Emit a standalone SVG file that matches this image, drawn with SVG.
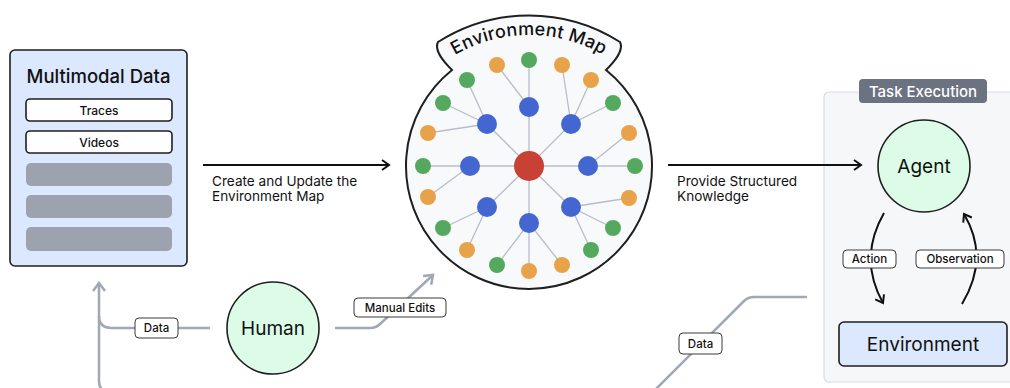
<svg xmlns="http://www.w3.org/2000/svg" width="1010" height="388" viewBox="0 0 1010 388">
<defs>
<style>
text{font-family:Inter,"Noto Sans","Liberation Sans",sans-serif;fill:#111;font-weight:500}
.dark{stroke:#1f1f1f;stroke-width:1.6}
.lbl{fill:#fff;stroke:#3a3a3a;stroke-width:1}
.lt{font-size:11.5px;text-anchor:middle}
.gray{fill:none;stroke:#a1a8b5;stroke-width:2.5;stroke-linejoin:round}
.edge{stroke:#b9bdc9;stroke-width:1.3}
.b{fill:#4466d0}.g{fill:#55a95f}.o{fill:#e8a34a}
.big{font-size:19px;text-anchor:middle;font-weight:400}
.blk{fill:none;stroke:#111;stroke-width:2}
.cap{font-size:13.6px;font-weight:400}
</style>
<marker id="ah" viewBox="0 0 12 12" refX="10" refY="6" markerWidth="12" markerHeight="12" markerUnits="userSpaceOnUse" orient="auto"><path d="M3,1 L10,6 L3,11" fill="none" stroke="#111" stroke-width="2"/></marker>
<marker id="ag" viewBox="0 0 14 14" refX="11" refY="7" markerWidth="14" markerHeight="14" markerUnits="userSpaceOnUse" orient="auto"><path d="M3,1 L11,7 L3,13" fill="none" stroke="#a1a8b5" stroke-width="2.5"/></marker>
<path id="arcT" d="M 382,182 A 147 147 0 0 1 676,182"/>
</defs>

<g id="task-execution">
<rect x="824" y="92" width="200" height="290" rx="5" fill="#f6f7f9" stroke="#d9dce1" stroke-width="1.2"/>
<rect x="859" y="79" width="128" height="24" rx="4" fill="#6b7280"/>
<text x="923" y="97" font-size="15" text-anchor="middle" style="fill:#fff">Task Execution</text>
</g>

<g id="connectors">
<line x1="203" y1="165" x2="389" y2="165" class="blk" marker-end="url(#ah)"/>
<text x="212" y="186" class="cap">Create and Update the</text>
<text x="212" y="201" class="cap">Environment Map</text>
<line x1="668" y1="165" x2="861" y2="165" class="blk" marker-end="url(#ah)"/>
<text x="677" y="186" class="cap">Provide Structured</text>
<text x="677" y="201" class="cap">Knowledge</text>
<path d="M884,213 Q858,258 883,303" class="blk" marker-end="url(#ah)"/>
<path d="M962,304 Q990,258 964,214" class="blk" marker-end="url(#ah)"/>
<path d="M210,328 H112 Q99,328 99,316" class="gray"/>
<path d="M807,297 H754 Q748,297 744,301 L653,392 H110 Q99,392 99,381 V283" class="gray" marker-end="url(#ag)"/>
<path d="M335,328 H370 Q376,328 380,324 L433,275" class="gray" marker-end="url(#ag)"/>
<rect x="135" y="318" width="43" height="20" rx="4" class="lbl"/>
<text x="156.5" y="332" class="lt">Data</text>
<rect x="354" y="298" width="92" height="19" rx="4" class="lbl"/>
<text x="400" y="312" class="lt">Manual Edits</text>
<rect x="679" y="333" width="43" height="21" rx="4" class="lbl"/>
<text x="700.5" y="348" class="lt">Data</text>
<rect x="843" y="250" width="53" height="18" rx="4" class="lbl"/>
<text x="869.5" y="263" class="lt">Action</text>
<rect x="916" y="250" width="88" height="18" rx="4" class="lbl"/>
<text x="960" y="263" class="lt">Observation</text>
</g>

<g id="multimodal-data">
<rect x="10" y="50" width="177" height="216" rx="5" fill="#dbe8fd" class="dark"/>
<text x="98.5" y="83" font-size="18.5" text-anchor="middle">Multimodal Data</text>
<rect x="26" y="99" width="146" height="22" rx="4" fill="#fff" class="dark" stroke-width="1.4"/>
<text x="99" y="114.5" font-size="12" text-anchor="middle">Traces</text>
<rect x="26" y="131" width="146" height="22" rx="4" fill="#fff" class="dark" stroke-width="1.4"/>
<text x="99" y="146.5" font-size="12" text-anchor="middle">Videos</text>
<rect x="26" y="163" width="146" height="23" rx="5" fill="#9ca3af"/>
<rect x="26" y="195" width="146" height="23" rx="5" fill="#9ca3af"/>
<rect x="26" y="227" width="146" height="24" rx="5" fill="#9ca3af"/>
</g>

<g id="environment-map">
<path d="M452,70 C442,60 434,50 438,42 A 169 169 0 0 1 620,42 C624,50 616,60 606,70 A 123 123 0 1 1 452,70 Z" fill="#f8f9fb" stroke="#1f1f1f" stroke-width="2"/>
<text font-size="18" letter-spacing="0.3"><textPath href="#arcT" startOffset="50%" text-anchor="middle">Environment Map</textPath></text>
<g class="edge">
<line x1="529" y1="166" x2="529" y2="107"/><line x1="529" y1="166" x2="487" y2="124"/><line x1="529" y1="166" x2="571" y2="124"/>
<line x1="529" y1="166" x2="470" y2="166"/><line x1="529" y1="166" x2="588" y2="166"/>
<line x1="529" y1="166" x2="487" y2="207"/><line x1="529" y1="166" x2="571" y2="207"/><line x1="529" y1="166" x2="529" y2="223"/>
<line x1="529" y1="107" x2="529" y2="60"/><line x1="529" y1="107" x2="497" y2="65"/>
<line x1="571" y1="124" x2="562" y2="65"/><line x1="571" y1="124" x2="591" y2="80"/><line x1="571" y1="124" x2="613" y2="103"/>
<line x1="487" y1="124" x2="467" y2="80"/><line x1="487" y1="124" x2="443" y2="103"/><line x1="487" y1="124" x2="428" y2="133"/>
<line x1="470" y1="166" x2="423" y2="166"/><line x1="470" y1="166" x2="428" y2="197"/>
<line x1="588" y1="166" x2="629" y2="133"/><line x1="588" y1="166" x2="635" y2="166"/>
<line x1="487" y1="207" x2="443" y2="228"/><line x1="487" y1="207" x2="467" y2="250"/>
<line x1="571" y1="207" x2="629" y2="198"/><line x1="571" y1="207" x2="613" y2="228"/><line x1="571" y1="207" x2="591" y2="250"/>
<line x1="529" y1="223" x2="497" y2="265"/><line x1="529" y1="223" x2="529" y2="271"/><line x1="529" y1="223" x2="562" y2="265"/>
</g>
<circle cx="529" cy="60" r="8" class="g"/><circle cx="497" cy="65" r="8" class="o"/><circle cx="562" cy="65" r="8" class="o"/>
<circle cx="467" cy="80" r="8" class="g"/><circle cx="591" cy="80" r="8" class="o"/>
<circle cx="443" cy="103" r="8" class="g"/><circle cx="613" cy="103" r="8" class="g"/>
<circle cx="428" cy="133" r="8" class="o"/><circle cx="629" cy="133" r="8" class="o"/>
<circle cx="423" cy="166" r="8" class="g"/><circle cx="635" cy="166" r="8" class="g"/>
<circle cx="428" cy="197" r="8" class="o"/><circle cx="629" cy="198" r="8" class="o"/>
<circle cx="443" cy="228" r="8" class="g"/><circle cx="613" cy="228" r="8" class="g"/>
<circle cx="467" cy="250" r="8" class="o"/><circle cx="591" cy="250" r="8" class="g"/>
<circle cx="497" cy="265" r="8" class="g"/><circle cx="529" cy="271" r="8" class="o"/><circle cx="562" cy="265" r="8" class="o"/>
<circle cx="529" cy="107" r="10" class="b"/><circle cx="487" cy="124" r="10" class="b"/><circle cx="571" cy="124" r="10" class="b"/>
<circle cx="470" cy="166" r="10" class="b"/><circle cx="588" cy="166" r="10" class="b"/>
<circle cx="487" cy="207" r="10" class="b"/><circle cx="571" cy="207" r="10" class="b"/><circle cx="529" cy="223" r="10" class="b"/>
<circle cx="529" cy="166" r="15" fill="#c84135"/>
</g>

<g id="human">
<circle cx="273" cy="328" r="46" fill="#dcfce7" class="dark"/>
<text x="273" y="335" class="big">Human</text>
</g>

<g id="agent">
<circle cx="924" cy="166" r="46" fill="#dcfce7" class="dark"/>
<text x="924" y="173" class="big">Agent</text>
</g>

<g id="environment">
<rect x="839" y="322" width="168" height="44" rx="5" fill="#dbe8fd" class="dark"/>
<text x="923" y="351" class="big">Environment</text>
</g>
</svg>
